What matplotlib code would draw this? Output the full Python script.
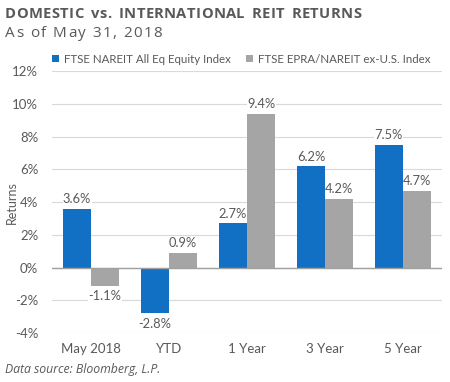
import matplotlib
matplotlib.use("Agg")
import matplotlib.pyplot as plt
import numpy as np

categories = ["May 2018", "YTD", "1 Year", "3 Year", "5 Year"]
domestic = [3.6, -2.8, 2.7, 6.2, 7.5]
international = [-1.1, 0.9, 9.4, 4.2, 4.7]
series_names = ["FTSE NAREIT All Eq Equity Index", "FTSE EPRA/NAREIT ex-U.S. Index"]
yticks = [-4, -2, 0, 2, 4, 6, 8, 10, 12]

plt.rcParams['font.family'] = ['Lato', 'DejaVu Sans']
blue = "#1170C4"
gray = "#A5A5A5"
txt = "#595959"

fig = plt.figure(figsize=(4.5, 3.82), dpi=100)
ax = fig.add_axes([0.116, 0.128, 0.866, 0.686])

x = np.arange(len(categories))
w = 0.36
b1 = ax.bar(x - w/2, domestic, w, color=blue, label=series_names[0], zorder=3)
b2 = ax.bar(x + w/2, international, w, color=gray, label=series_names[1], zorder=3)

box = dict(facecolor="white", edgecolor="none", pad=0.3)
for bars, vals in ((b1, domestic), (b2, international)):
    for r, v in zip(bars, vals):
        cx = r.get_x() + r.get_width()/2
        if v >= 0:
            ax.annotate(f"{v:.1f}%", (cx, v), xytext=(0, 2.5), textcoords="offset points",
                        ha="center", va="bottom", fontsize=9.3, color=txt, bbox=box, zorder=2.5)
        else:
            ax.annotate(f"{v:.1f}%", (cx, v), xytext=(0, -3.5), textcoords="offset points",
                        ha="center", va="top", fontsize=9.3, color=txt, bbox=box, zorder=2.5)

ax.set_ylim(-4, 12)
ax.set_xlim(-0.5, len(categories) - 0.5)
ax.set_yticks(yticks)
ax.set_yticklabels([f"{t}%" for t in yticks])
ax.set_xticks(x)
ax.set_xticklabels(categories)
ax.tick_params(axis="y", length=0, labelsize=9.5, colors=txt, pad=10)
ax.tick_params(axis="x", length=0, labelsize=9.5, colors=txt, pad=7)
ax.grid(axis="y", color="#D9D9D9", linewidth=0.8, zorder=0)
ax.axhline(0, color="#A0A0A0", linewidth=1.0, zorder=4)
for s in ax.spines.values():
    s.set_visible(False)
ax.set_ylabel("Returns", fontsize=9, color=txt)
ax.yaxis.set_label_coords(-0.087, 0.5)

ax.legend(loc="lower left", bbox_to_anchor=(0.0, 1.025), ncol=2, frameon=False,
          fontsize=8.3, handlelength=0.6, handleheight=0.6, handletextpad=0.45,
          columnspacing=1.3, labelcolor=txt, borderaxespad=0, borderpad=0)

renderer = fig.canvas.get_renderer()


def spaced_text(xpx, ypx, s, spacing, space_w, **kw):
    cur = xpx
    for ch in s:
        t = fig.text(cur / 450, 1 - ypx / 382, ch, va="baseline", ha="left", **kw)
        wpx = t.get_window_extent(renderer).width
        if ch == " ":
            wpx = space_w
        cur += wpx + spacing


spaced_text(5, 18.5, "DOMESTIC vs. INTERNATIONAL REIT RETURNS", 0.35, 6.5,
            fontsize=10.6, fontweight="bold", color=txt, family=["Open Sans", "DejaVu Sans"])
spaced_text(5, 37, "As of May 31, 2018", 1.45, 3.85,
            fontsize=11, color=txt, family=["Open Sans", "DejaVu Sans"])
fig.text(5 / 450, 1 - 369 / 382, "Data source: Bloomberg, L.P.", fontsize=8.85, style="italic",
         color=txt, va="center", ha="left", family=["Open Sans", "DejaVu Sans"])

fig.savefig("out.png", dpi=100)
